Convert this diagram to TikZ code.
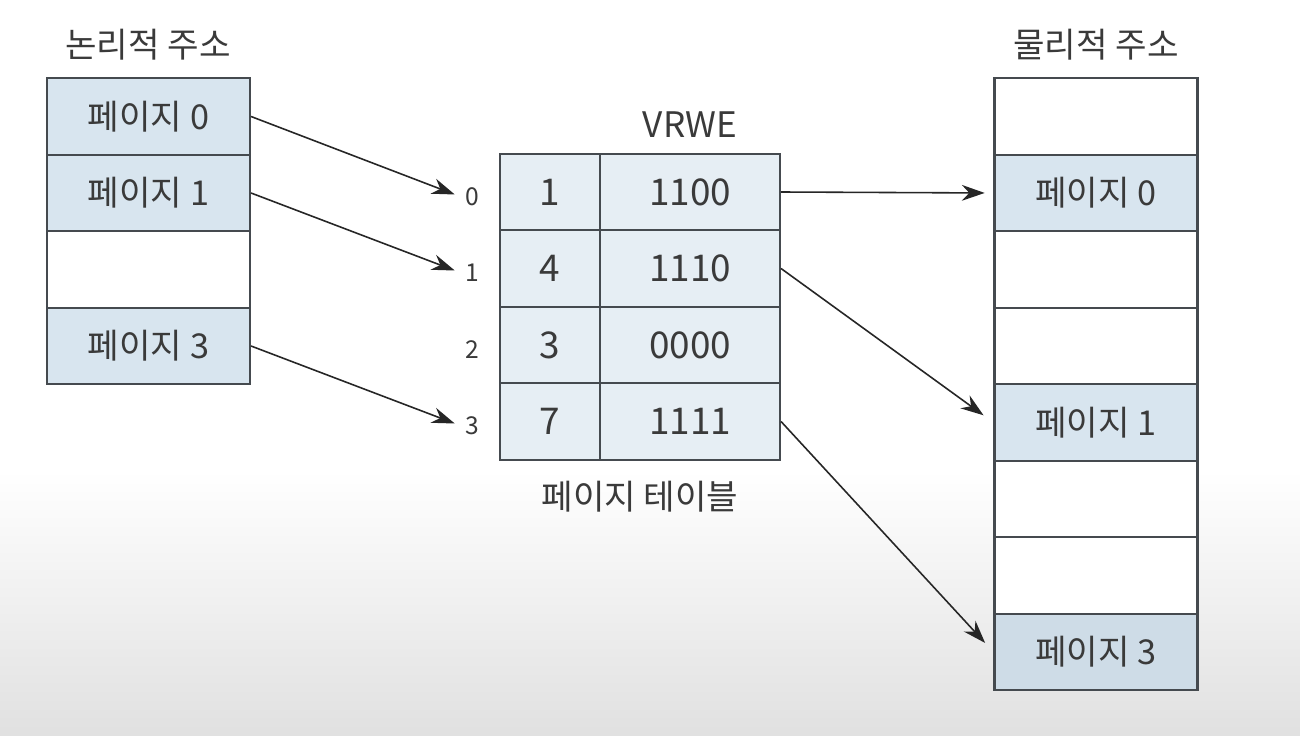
\documentclass[tikz,border=0pt]{standalone}
\usepackage{fontspec}
\setmainfont{Noto Sans CJK KR}
\usetikzlibrary{arrows.meta}
\definecolor{cellblue}{HTML}{D8E5EF}
\definecolor{cellblue2}{HTML}{CEDCE7}
\definecolor{tblue}{HTML}{E6EEF4}
\definecolor{ink}{HTML}{3A3A3A}
\definecolor{edge}{HTML}{454A4F}
\tikzset{
  cellL/.style={draw=edge, line width=1.2pt, minimum width=4.06cm, minimum height=1.53cm, inner sep=0pt, text=ink, font=\fontsize{19.5}{22}\selectfont},
  tcell/.style={draw=edge, line width=1.2pt, fill=tblue, minimum height=1.53cm, inner sep=0pt, text=ink, font=\fontsize{21}{23}\selectfont},
  idx/.style={text=ink, font=\fontsize{14}{16}\selectfont, inner sep=2pt},
  ttl/.style={text=ink, font=\fontsize{19.5}{22}\selectfont},
  conn/.style={draw=black!85, line width=0.9pt, -{Stealth[length=13pt,width=9pt]}}
}
\begin{document}
\begin{tikzpicture}[x=0.02cm, y=-0.02cm]
\useasboundingbox (0,0) rectangle (1300,736);
\fill[white] (0,0) rectangle (1300,470);
\shade[top color=white, bottom color=black!12] (0,470) rectangle (1300,736);

% left column
\node[ttl] (lt) at (148,45) {논리적 주소};
\node[cellL, fill=cellblue] (L0) at (148.5,116.5) {페이지 0};
\node[cellL, fill=cellblue] (L1) at (148.5,193) {페이지 1};
\node[cellL, fill=white] (L2) at (148.5,269.5) {};
\node[cellL, fill=cellblue] (L3) at (148.5,346) {페이지 3};

% page table
\node[ttl, font=\fontsize{20}{22}\selectfont] (vr) at (690,125) {VRWE};
\node[tcell, minimum width=2cm] (A0) at (550,192) {1};
\node[tcell, minimum width=3.6cm] (B0) at (690,192) {1100};
\node[tcell, minimum width=2cm] (A1) at (550,268.5) {4};
\node[tcell, minimum width=3.6cm] (B1) at (690,268.5) {1110};
\node[tcell, minimum width=2cm] (A2) at (550,345) {3};
\node[tcell, minimum width=3.6cm] (B2) at (690,345) {0000};
\node[tcell, minimum width=2cm] (A3) at (550,421.5) {7};
\node[tcell, minimum width=3.6cm] (B3) at (690,421.5) {1111};
\node[idx] (i0) at (472,197) {0};
\node[idx] (i1) at (472,273) {1};
\node[idx] (i2) at (472,350) {2};
\node[idx] (i3) at (472,426) {3};
\node[ttl] (pt) at (640,497) {페이지 테이블};

% right column
\node[ttl] (rt) at (1096,45) {물리적 주소};
\node[cellL, fill=white] (R0) at (1096,116.5) {};
\node[cellL, fill=cellblue] (R1) at (1096,193) {페이지 0};
\node[cellL, fill=white] (R2) at (1096,269.5) {};
\node[cellL, fill=white] (R3) at (1096,346) {};
\node[cellL, fill=cellblue] (R4) at (1096,422.5) {페이지 1};
\node[cellL, fill=white] (R5) at (1096,499) {};
\node[cellL, fill=white] (R6) at (1096,575.5) {};
\node[cellL, fill=cellblue2] (R7) at (1096,652) {페이지 3};

% connectors
\draw[conn, shorten >=4pt] (L0.east) -- (i0.west);
\draw[conn, shorten >=4pt] (L1.east) -- (i1.west);
\draw[conn, shorten >=4pt] (L3.east) -- (i3.west);
\draw[conn, shorten >=5pt] (B0.east) -- (R1.west);
\draw[conn, shorten >=7pt] (B1.east) -- (R4.west);
\draw[conn, shorten >=7pt] (B3.east) -- (R7.west);
\end{tikzpicture}
\end{document}
